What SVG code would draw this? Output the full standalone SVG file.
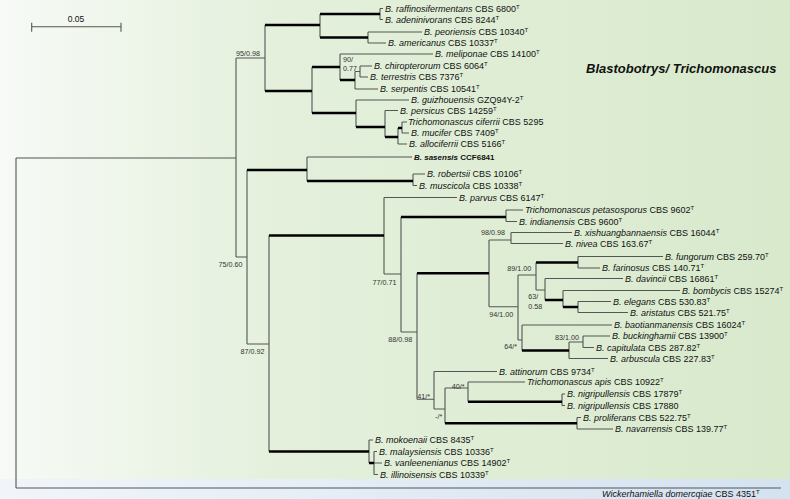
<svg xmlns="http://www.w3.org/2000/svg" width="790" height="499" viewBox="0 0 790 499">
<defs>
<linearGradient id="bg" x1="0" y1="0" x2="1" y2="0">
<stop offset="0" stop-color="#f7faf6"/>
<stop offset="0.35" stop-color="#e4f0dc"/>
<stop offset="1" stop-color="#d8e9cc"/>
</linearGradient>
<linearGradient id="bb" x1="0" y1="0" x2="1" y2="0">
<stop offset="0" stop-color="#f1f5fa"/>
<stop offset="1" stop-color="#d4e2f0"/>
</linearGradient>
<style>
.t{fill:none;stroke:#555;stroke-width:1.1}
.k{fill:none;stroke:#000;stroke-width:2.6}
text{font-family:"Liberation Sans",Arial,sans-serif;fill:#111}
.tx{font-size:9px}
.i{font-style:italic}
.s{font-size:7.2px;fill:#333}
.sup{font-size:6px}
.b{font-weight:bold;font-size:8px}
</style>
</defs>
<rect x="0" y="0" width="790" height="479" fill="url(#bg)"/>
<rect x="0" y="479" width="790" height="20" fill="url(#bb)"/>

<g id="scale">
<path class="t" d="M31.7 26.7H121M31.7 22.7V31.7M121 22.7V31.7"/>
<text x="76" y="21.5" font-size="8.5" text-anchor="middle">0.05</text>
</g>

<g id="connectors">
<path class="t" d="M16 158V488M236 58V257M265 25V91M320 14V37.5M380 8.5V19.5M368 32V43M312 67V113M340 54V80M355 71.5V89M360 66V77M356 100V127M385 110.5V137M398 128V144M402 122V133M247 170V344M307 157V181M413 174V185.5M269 235.5V451.5M384 197.5V274M401 217V332M506 210V221.5M417 273.3V399.3M489 240V306.7M511 232.5V243.5M518 275V340M536 262.5V290M578 256.5V268M545 278.5V300M563 290.5V307M578 301.5V312.5M522 325V350.5M569 342V358.5M583 336V347.5M434 371.5V409M445 388V423.3M468 382V401.7M562 394V405.5M577 417.5V429M369 440V463M374 451.5V474.5"/>
<path class="t" d="M16 158H236M236 58H265M236 257H247M380 8.5H383M380 19.5H383M368 32H422M368 43H386M340 54H433M355 71.5H360M360 66H372M360 77H368M355 89H378M356 100H409M385 110.5H398M402 122H407M402 133H409M398 144H407M307 157H412M413 174H425M413 185.5H417M247 344H269M384 197.5H457M384 274H401M506 210H523M506 221.5H517M401 332H417M489 240H511M511 232.5H572M511 243.5H563M489 306.7H518M518 275H536M578 256.5H663M578 268H600M536 290H545M545 278.5H623M563 290.5H680M578 301.5H611M578 312.5H628M518 340H522M522 325H612M569 342H583M583 336H610M583 347.5H594M569 358.5H608M417 399.3H434M434 371.5H497M434 409H445M445 388H468M468 382H525M562 394H565M562 405.5H565M577 417.5H581M577 429H613M369 440H373M374 451.5H377M374 463H382M374 474.5H378M16 488H781"/>
<path class="k" d="M265 25H320M320 14H380M320 37.5H368M265 91H312M312 67H340M340 80H355M312 113H356M356 127H385M385 137H398M398 128H402M247 170H307M307 181H413M269 235.5H384M401 217H506M417 273.3H489M536 262.5H578M545 300H563M563 307H578M522 350.5H569M468 401.7H562M445 423.3H577M269 451.5H369M369 463H374"/>
</g>

<g id="supports">
<text class="s" x="236" y="56">95/0.98</text>
<text class="s" x="343" y="62">90/</text>
<text class="s" x="343" y="71">0.77</text>
<text class="s" x="218.5" y="267">75/0.60</text>
<text class="s" x="240.5" y="353.5">87/0.92</text>
<text class="s" x="372.5" y="285">77/0.71</text>
<text class="s" x="481" y="235">98/0.98</text>
<text class="s" x="489.3" y="316.5">94/1.00</text>
<text class="s" x="507.3" y="271">89/1.00</text>
<text class="s" x="528.3" y="298.5">63/</text>
<text class="s" x="528.3" y="308.5">0.58</text>
<text class="s" x="504.3" y="348.5">64/*</text>
<text class="s" x="555" y="340">83/1.00</text>
<text class="s" x="388.3" y="342">88/0.98</text>
<text class="s" x="417.3" y="398.5">41/*</text>
<text class="s" x="451.7" y="389">40/*</text>
<text class="s" x="435" y="418.5">-/*</text>
</g>

<g id="clade-label">
<text x="586" y="73" font-size="13" font-weight="bold" font-style="italic">Blastobotrys/ Trichomonascus</text>
</g>

<g id="t01"><text class="tx" x="385" y="11.7"><tspan class="i">B. raffinosifermentans</tspan> CBS 6800<tspan class="sup" dy="-3">T</tspan></text></g>
<g id="t02"><text class="tx" x="385" y="22.7"><tspan class="i">B. adeninivorans</tspan> CBS 8244<tspan class="sup" dy="-3">T</tspan></text></g>
<g id="t03"><text class="tx" x="424" y="35.2"><tspan class="i">B. peoriensis</tspan> CBS 10340<tspan class="sup" dy="-3">T</tspan></text></g>
<g id="t04"><text class="tx" x="388" y="46.2"><tspan class="i">B. americanus</tspan> CBS 10337<tspan class="sup" dy="-3">T</tspan></text></g>
<g id="t05"><text class="tx" x="435" y="57.2"><tspan class="i">B. meliponae</tspan> CBS 14100<tspan class="sup" dy="-3">T</tspan></text></g>
<g id="t06"><text class="tx" x="374" y="69.2"><tspan class="i">B. chiropterorum</tspan> CBS 6064<tspan class="sup" dy="-3">T</tspan></text></g>
<g id="t07"><text class="tx" x="370" y="80.2"><tspan class="i">B. terrestris</tspan> CBS 7376<tspan class="sup" dy="-3">T</tspan></text></g>
<g id="t08"><text class="tx" x="380" y="92.2"><tspan class="i">B. serpentis</tspan> CBS 10541<tspan class="sup" dy="-3">T</tspan></text></g>
<g id="t09"><text class="tx" x="411" y="103.2"><tspan class="i">B. guizhouensis</tspan> GZQ94Y-2<tspan class="sup" dy="-3">T</tspan></text></g>
<g id="t10"><text class="tx" x="400" y="113.7"><tspan class="i">B. persicus</tspan> CBS 14259<tspan class="sup" dy="-3">T</tspan></text></g>
<g id="t11"><text class="tx" x="408" y="125.2"><tspan class="i">Trichomonascus ciferrii</tspan> CBS 5295</text></g>
<g id="t12"><text class="tx" x="411" y="136.2"><tspan class="i">B. mucifer</tspan> CBS 7409<tspan class="sup" dy="-3">T</tspan></text></g>
<g id="t13"><text class="tx" x="409" y="147.2"><tspan class="i">B. allociferrii</tspan> CBS 5166<tspan class="sup" dy="-3">T</tspan></text></g>
<g id="t14"><text class="b" x="414" y="160"><tspan class="i">B. sasensis</tspan> CCF6841</text></g>
<g id="t15"><text class="tx" x="427" y="177.2"><tspan class="i">B. robertsii</tspan> CBS 10106<tspan class="sup" dy="-3">T</tspan></text></g>
<g id="t16"><text class="tx" x="419" y="188.7"><tspan class="i">B. muscicola</tspan> CBS 10338<tspan class="sup" dy="-3">T</tspan></text></g>
<g id="t17"><text class="tx" x="459" y="200.7"><tspan class="i">B. parvus</tspan> CBS 6147<tspan class="sup" dy="-3">T</tspan></text></g>
<g id="t18"><text class="tx" x="525" y="213.2"><tspan class="i">Trichomonascus petasosporus</tspan> CBS 9602<tspan class="sup" dy="-3">T</tspan></text></g>
<g id="t19"><text class="tx" x="519" y="224.7"><tspan class="i">B. indianensis</tspan> CBS 9600<tspan class="sup" dy="-3">T</tspan></text></g>
<g id="t20"><text class="tx" x="574" y="235.7"><tspan class="i">B. xishuangbannaensis</tspan> CBS 16044<tspan class="sup" dy="-3">T</tspan></text></g>
<g id="t21"><text class="tx" x="565" y="246.7"><tspan class="i">B. nivea</tspan> CBS 163.67<tspan class="sup" dy="-3">T</tspan></text></g>
<g id="t22"><text class="tx" x="665" y="259.7"><tspan class="i">B. fungorum</tspan> CBS 259.70<tspan class="sup" dy="-3">T</tspan></text></g>
<g id="t23"><text class="tx" x="602" y="271.2"><tspan class="i">B. farinosus</tspan> CBS 140.71<tspan class="sup" dy="-3">T</tspan></text></g>
<g id="t24"><text class="tx" x="625" y="281.7"><tspan class="i">B. davincii</tspan> CBS 16861<tspan class="sup" dy="-3">T</tspan></text></g>
<g id="t25"><text class="tx" x="682" y="293.7"><tspan class="i">B. bombycis</tspan> CBS 15274<tspan class="sup" dy="-3">T</tspan></text></g>
<g id="t26"><text class="tx" x="613" y="304.7"><tspan class="i">B. elegans</tspan> CBS 530.83<tspan class="sup" dy="-3">T</tspan></text></g>
<g id="t27"><text class="tx" x="630" y="315.7"><tspan class="i">B. aristatus</tspan> CBS 521.75<tspan class="sup" dy="-3">T</tspan></text></g>
<g id="t28"><text class="tx" x="614" y="328.2"><tspan class="i">B. baotianmanensis</tspan> CBS 16024<tspan class="sup" dy="-3">T</tspan></text></g>
<g id="t29"><text class="tx" x="612" y="339.2"><tspan class="i">B. buckinghamii</tspan> CBS 13900<tspan class="sup" dy="-3">T</tspan></text></g>
<g id="t30"><text class="tx" x="596" y="350.7"><tspan class="i">B. capitulata</tspan> CBS 287.82<tspan class="sup" dy="-3">T</tspan></text></g>
<g id="t31"><text class="tx" x="610" y="361.7"><tspan class="i">B. arbuscula</tspan> CBS 227.83<tspan class="sup" dy="-3">T</tspan></text></g>
<g id="t32"><text class="tx" x="499" y="374.7"><tspan class="i">B. attinorum</tspan> CBS 9734<tspan class="sup" dy="-3">T</tspan></text></g>
<g id="t33"><text class="tx" x="527" y="385.2"><tspan class="i">Trichomonascus apis</tspan> CBS 10922<tspan class="sup" dy="-3">T</tspan></text></g>
<g id="t34"><text class="tx" x="567" y="397.2"><tspan class="i">B. nigripullensis</tspan> CBS 17879<tspan class="sup" dy="-3">T</tspan></text></g>
<g id="t35"><text class="tx" x="567" y="408.7"><tspan class="i">B. nigripullensis</tspan> CBS 17880</text></g>
<g id="t36"><text class="tx" x="583" y="420.7"><tspan class="i">B. proliferans</tspan> CBS 522.75<tspan class="sup" dy="-3">T</tspan></text></g>
<g id="t37"><text class="tx" x="615" y="432.2"><tspan class="i">B. navarrensis</tspan> CBS 139.77<tspan class="sup" dy="-3">T</tspan></text></g>
<g id="t38"><text class="tx" x="375" y="443.2"><tspan class="i">B. mokoenaii</tspan> CBS 8435<tspan class="sup" dy="-3">T</tspan></text></g>
<g id="t39"><text class="tx" x="379" y="454.7"><tspan class="i">B. malaysiensis</tspan> CBS 10336<tspan class="sup" dy="-3">T</tspan></text></g>
<g id="t40"><text class="tx" x="384" y="466.2"><tspan class="i">B. vanleenenianus</tspan> CBS 14902<tspan class="sup" dy="-3">T</tspan></text></g>
<g id="t41"><text class="tx" x="380" y="477.7"><tspan class="i">B. illinoisensis</tspan> CBS 10339<tspan class="sup" dy="-3">T</tspan></text></g>
<g id="t42"><text class="tx" x="602" y="497"><tspan class="i">Wickerhamiella domercqiae</tspan> CBS 4351<tspan class="sup" dy="-3">T</tspan></text></g>
</svg>
